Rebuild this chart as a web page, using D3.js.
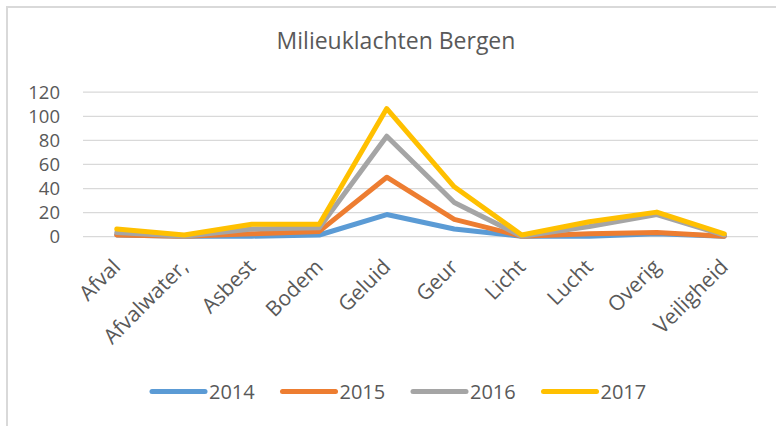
<!DOCTYPE html>
<html><head><meta charset="utf-8">
<script src="https://cdn.jsdelivr.net/npm/d3@7"></script>
<style>body{margin:0;background:#fff}svg{display:block}text{font-family:"Open Sans","Noto Sans",sans-serif;fill:#595959}</style>
</head><body><div id="chart"></div>
<script>
const categories = ["Afval","Afvalwater,","Asbest","Bodem","Geluid","Geur","Licht","Lucht","Overig","Veiligheid"];
const years = ["2014","2015","2016","2017"];
const colors = ["#5b9bd5","#ed7d31","#a5a5a5","#ffc000"];
const v2014 = [1,0,0,1,18,6,0,0,2,0];
const v2015 = [1,0,2,4,49,14,0,2,3,0];
const v2016 = [3,0,6,7,83,28,0,8,18,1];
const v2017 = [6,1,10,10,106,41,1,12,20,2];
const yTicks = [0,20,40,60,80,100,120];
const seriesValues = [v2014,v2015,v2016,v2017];

const W=776,H=426;
const svg=d3.select("#chart").append("svg").attr("width",W).attr("height",H);
svg.append("path").attr("d",`M7,${H} V7 H${W}`).attr("fill","none").attr("stroke","#d9d9d9").attr("stroke-width",2);

const x=d3.scaleBand().domain(categories).range([83,758]);
const y=d3.scaleLinear().domain([0,120]).range([236.2,91.7]);

svg.append("text").attr("x",396).attr("y",49).attr("text-anchor","middle").attr("font-size",23).text("Milieuklachten Bergen");

const yAxis=svg.append("g").attr("transform","translate(83,0)")
  .call(d3.axisLeft(y).tickValues(yTicks).tickSize(-675).tickPadding(23));
yAxis.select(".domain").remove();
yAxis.selectAll("line").attr("stroke","#d9d9d9").attr("stroke-width",1.3);
yAxis.selectAll("text").attr("font-size",18.5).attr("fill","#595959").attr("font-family",null).attr("dy","0.36em");

const xAxis=svg.append("g").attr("transform","translate(0,236.2)")
  .call(d3.axisBottom(x).tickSize(0).tickPadding(0));
xAxis.select(".domain").remove();
xAxis.selectAll("text").attr("font-size",21).attr("fill","#595959").attr("font-family",null)
  .attr("text-anchor","end").attr("dy",null).attr("y",0)
  .attr("transform","translate(5,32) rotate(-45)");

const line=d3.line().x((d,i)=>x(categories[i])+x.bandwidth()/2).y(d=>y(d));
seriesValues.forEach((vals,k)=>{
  svg.append("path").datum(vals).attr("d",line).attr("fill","none")
    .attr("stroke",colors[k]).attr("stroke-width",5).attr("stroke-linejoin","round").attr("stroke-linecap","round");
});

const leg=svg.append("g");
years.forEach((yr,k)=>{
  const lx=152+k*130.5;
  leg.append("line").attr("x1",lx).attr("x2",lx+53).attr("y1",391.5).attr("y2",391.5)
    .attr("stroke",colors[k]).attr("stroke-width",5).attr("stroke-linecap","round");
  leg.append("text").attr("x",lx+57).attr("y",399).attr("font-size",20).text(yr);
});
</script></body></html>
